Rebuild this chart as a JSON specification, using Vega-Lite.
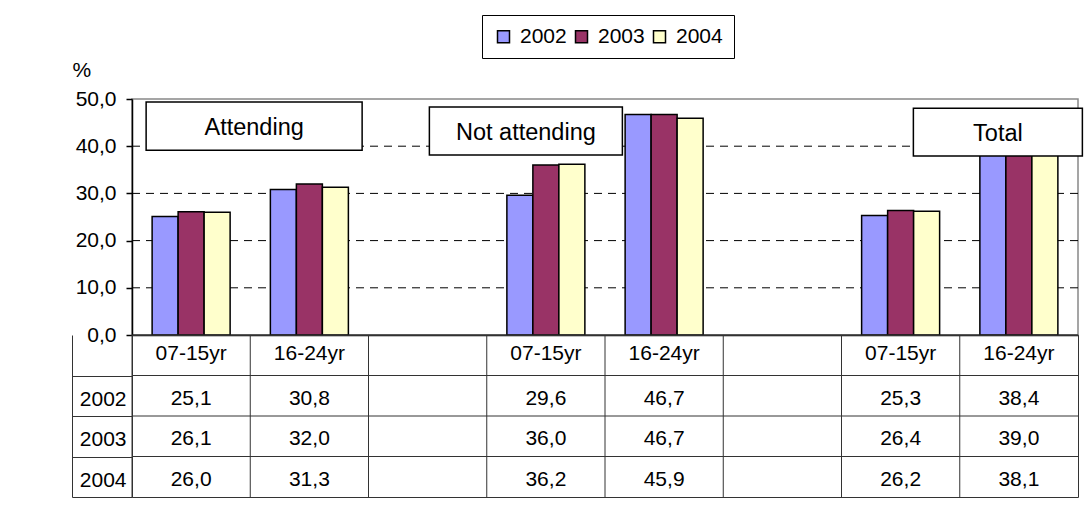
{
  "$schema": "https://vega.github.io/schema/vega-lite/v6.json",
  "padding": {"left": 71, "top": 14, "right": 0, "bottom": 0},
  "background": "white",
  "config": {"font": "Liberation Sans"},
  "datasets": {
    "rates": [
      {"col": "Attending|07-15yr", "year": "2002", "value": 25.1},
      {"col": "Attending|07-15yr", "year": "2003", "value": 26.1},
      {"col": "Attending|07-15yr", "year": "2004", "value": 26.0},
      {"col": "Attending|16-24yr", "year": "2002", "value": 30.8},
      {"col": "Attending|16-24yr", "year": "2003", "value": 32.0},
      {"col": "Attending|16-24yr", "year": "2004", "value": 31.3},
      {"col": "Not attending|07-15yr", "year": "2002", "value": 29.6},
      {"col": "Not attending|07-15yr", "year": "2003", "value": 36.0},
      {"col": "Not attending|07-15yr", "year": "2004", "value": 36.2},
      {"col": "Not attending|16-24yr", "year": "2002", "value": 46.7},
      {"col": "Not attending|16-24yr", "year": "2003", "value": 46.7},
      {"col": "Not attending|16-24yr", "year": "2004", "value": 45.9},
      {"col": "Total|07-15yr", "year": "2002", "value": 25.3},
      {"col": "Total|07-15yr", "year": "2003", "value": 26.4},
      {"col": "Total|07-15yr", "year": "2004", "value": 26.2},
      {"col": "Total|16-24yr", "year": "2002", "value": 38.4},
      {"col": "Total|16-24yr", "year": "2003", "value": 39.0},
      {"col": "Total|16-24yr", "year": "2004", "value": 38.1}
    ],
    "cols": [
      {"col": "Attending|07-15yr"}, {"col": "Attending|16-24yr"}, {"col": "gap1"},
      {"col": "Not attending|07-15yr"}, {"col": "Not attending|16-24yr"}, {"col": "gap2"},
      {"col": "Total|07-15yr"}, {"col": "Total|16-24yr"}
    ],
    "rows": [{"year": ""}, {"year": "2002"}, {"year": "2003"}, {"year": "2004"}]
  },
  "bounds": "flush",
  "spacing": 0,
  "vconcat": [
    {
      "width": 946,
      "height": 236,
      "view": {"stroke": "#888888", "strokeWidth": 1.5},
      "layer": [
        {
          "data": {"values": [{"g": 10}, {"g": 20}, {"g": 30}, {"g": 40}]},
          "mark": {"type": "rule", "color": "black", "strokeWidth": 1, "strokeDash": [8, 6]},
          "encoding": {"y": {"field": "g", "type": "quantitative"}}
        },
        {
          "data": {"name": "rates"},
          "mark": {"type": "bar", "stroke": "black", "strokeWidth": 1.5},
          "encoding": {
            "x": {
              "field": "col", "type": "nominal",
              "scale": {"domain": ["Attending|07-15yr", "Attending|16-24yr", "gap1", "Not attending|07-15yr", "Not attending|16-24yr", "gap2", "Total|07-15yr", "Total|16-24yr"], "paddingInner": 0, "paddingOuter": 0},
              "axis": {"title": null, "labels": false, "ticks": false, "grid": false, "domainColor": "black", "domainWidth": 1.5}
            },
            "xOffset": {"field": "year", "type": "nominal", "scale": {"paddingInner": 0, "paddingOuter": 0.774}},
            "y": {
              "field": "value", "type": "quantitative",
              "scale": {"domain": [0, 50], "nice": false},
              "axis": {
                "values": [0, 10, 20, 30, 40, 50],
                "labelExpr": "replace(format(datum.value, '.1f'), '.', ',')",
                "title": "%", "titleAngle": 0, "titleAlign": "left", "titleBaseline": "alphabetic",
                "titleX": -60, "titleY": -23, "titleFontSize": 21, "titleFontWeight": "normal", "titleColor": "black",
                "labelFontSize": 21, "labelColor": "black", "labelPadding": 10,
                "tickSize": 6, "tickColor": "black", "tickWidth": 1.5,
                "domainColor": "black", "domainWidth": 1.5,
                "grid": false
              }
            },
            "color": {
              "field": "year", "type": "nominal",
              "scale": {"domain": ["2002", "2003", "2004"], "range": ["#9999FF", "#993366", "#FFFFCC"]},
              "legend": {
                "orient": "none", "legendX": 350, "legendY": -84, "direction": "horizontal", "title": null,
                "symbolType": "square", "symbolSize": 144, "symbolStrokeColor": "black", "symbolStrokeWidth": 1.5,
                "labelFontSize": 21, "labelColor": "black", "labelOffset": 6, "columnPadding": 4,
                "padding": 11, "strokeColor": "black", "fillColor": "white"
              }
            }
          }
        },
        {
          "data": {"values": [{"label": "Attending", "col": "Attending|07-15yr", "ylo": 39.13, "yhi": 49.36, "ym": 44.25}]},
          "layer": [
            {
              "mark": {"type": "bar", "width": 216, "xOffset": 63, "fill": "white", "stroke": "black", "strokeWidth": 1.5},
              "encoding": {"x": {"field": "col", "type": "nominal"}, "y": {"field": "ylo", "type": "quantitative"}, "y2": {"field": "yhi"}}
            },
            {
              "mark": {"type": "text", "xOffset": 63, "fontSize": 23.5, "baseline": "middle", "dy": 2, "color": "black"},
              "encoding": {"x": {"field": "col", "type": "nominal"}, "y": {"field": "ym", "type": "quantitative"}, "text": {"field": "label"}}
            }
          ]
        },
        {
          "data": {"values": [{"label": "Not attending", "col": "Not attending|07-15yr", "ylo": 38.14, "yhi": 48.31, "ym": 43.2}]},
          "layer": [
            {
              "mark": {"type": "bar", "width": 193, "xOffset": -20, "fill": "white", "stroke": "black", "strokeWidth": 1.5},
              "encoding": {"x": {"field": "col", "type": "nominal"}, "y": {"field": "ylo", "type": "quantitative"}, "y2": {"field": "yhi"}}
            },
            {
              "mark": {"type": "text", "xOffset": -20, "fontSize": 23.5, "baseline": "middle", "dy": 2, "color": "black"},
              "encoding": {"x": {"field": "col", "type": "nominal"}, "y": {"field": "ym", "type": "quantitative"}, "text": {"field": "label"}}
            }
          ]
        },
        {
          "data": {"values": [{"label": "Total", "col": "Total|16-24yr", "ylo": 37.92, "yhi": 48.03, "ym": 42.98}]},
          "layer": [
            {
              "mark": {"type": "bar", "width": 169, "xOffset": -21, "fill": "white", "stroke": "black", "strokeWidth": 1.5},
              "encoding": {"x": {"field": "col", "type": "nominal"}, "y": {"field": "ylo", "type": "quantitative"}, "y2": {"field": "yhi"}}
            },
            {
              "mark": {"type": "text", "xOffset": -21, "fontSize": 23.5, "baseline": "middle", "dy": 2, "color": "black"},
              "encoding": {"x": {"field": "col", "type": "nominal"}, "y": {"field": "ym", "type": "quantitative"}, "text": {"field": "label"}}
            }
          ]
        }
      ]
    },
    {
      "width": 946,
      "height": 162,
      "view": {"stroke": "#333333", "strokeWidth": 1},
      "resolve": {"axis": {"y": "independent"}},
      "layer": [
        {
          "data": {"name": "cols"},
          "mark": {"type": "rule", "color": "#333333", "strokeWidth": 1},
          "encoding": {
            "x": {
              "field": "col", "type": "nominal", "bandPosition": 0,
              "scale": {"domain": ["Attending|07-15yr", "Attending|16-24yr", "gap1", "Not attending|07-15yr", "Not attending|16-24yr", "gap2", "Total|07-15yr", "Total|16-24yr"], "paddingInner": 0, "paddingOuter": 0},
              "axis": null
            }
          }
        },
        {
          "data": {"name": "rows"},
          "mark": {"type": "rule", "color": "#333333", "strokeWidth": 1},
          "encoding": {
            "y": {
              "field": "year", "type": "nominal", "bandPosition": 0,
              "scale": {"domain": ["", "2002", "2003", "2004"], "paddingInner": 0, "paddingOuter": 0},
              "axis": {
                "title": null, "tickOffset": 20.25, "tickSize": 60, "tickColor": "#333333", "tickWidth": 1,
                "grid": false, "domain": true, "domainColor": "#333333", "domainWidth": 1,
                "labelFontSize": 21, "labelColor": "black", "labelPadding": -54, "labelOffset": -17
              }
            }
          }
        },
        {
          "data": {"name": "rates"},
          "transform": [{"calculate": "replace(format(datum.value, '.1f'), '.', ',')", "as": "shown"}],
          "mark": {"type": "text", "fontSize": 21, "baseline": "middle", "dy": 3, "color": "black"},
          "encoding": {
            "x": {"field": "col", "type": "nominal", "axis": null},
            "y": {"field": "year", "type": "nominal", "axis": null},
            "text": {"field": "shown", "type": "nominal"}
          }
        },
        {
          "data": {"values": [
            {"col": "Attending|07-15yr", "year": "", "shown": "07-15yr"},
            {"col": "Attending|16-24yr", "year": "", "shown": "16-24yr"},
            {"col": "Not attending|07-15yr", "year": "", "shown": "07-15yr"},
            {"col": "Not attending|16-24yr", "year": "", "shown": "16-24yr"},
            {"col": "Total|07-15yr", "year": "", "shown": "07-15yr"},
            {"col": "Total|16-24yr", "year": "", "shown": "16-24yr"}
          ]},
          "mark": {"type": "text", "fontSize": 21, "baseline": "middle", "dy": -1, "color": "black"},
          "encoding": {
            "x": {"field": "col", "type": "nominal", "axis": null},
            "y": {"field": "year", "type": "nominal", "axis": null},
            "text": {"field": "shown", "type": "nominal"}
          }
        },
        {
          "data": {"name": "rows"},
          "mark": {"type": "point", "opacity": 0},
          "encoding": {
            "y": {
              "field": "year", "type": "nominal",
              "axis": {"orient": "left", "offset": 60, "domain": true, "domainColor": "#333333", "domainWidth": 1, "ticks": false, "labels": false, "grid": false, "title": null}
            }
          }
        }
      ]
    }
  ]
}
